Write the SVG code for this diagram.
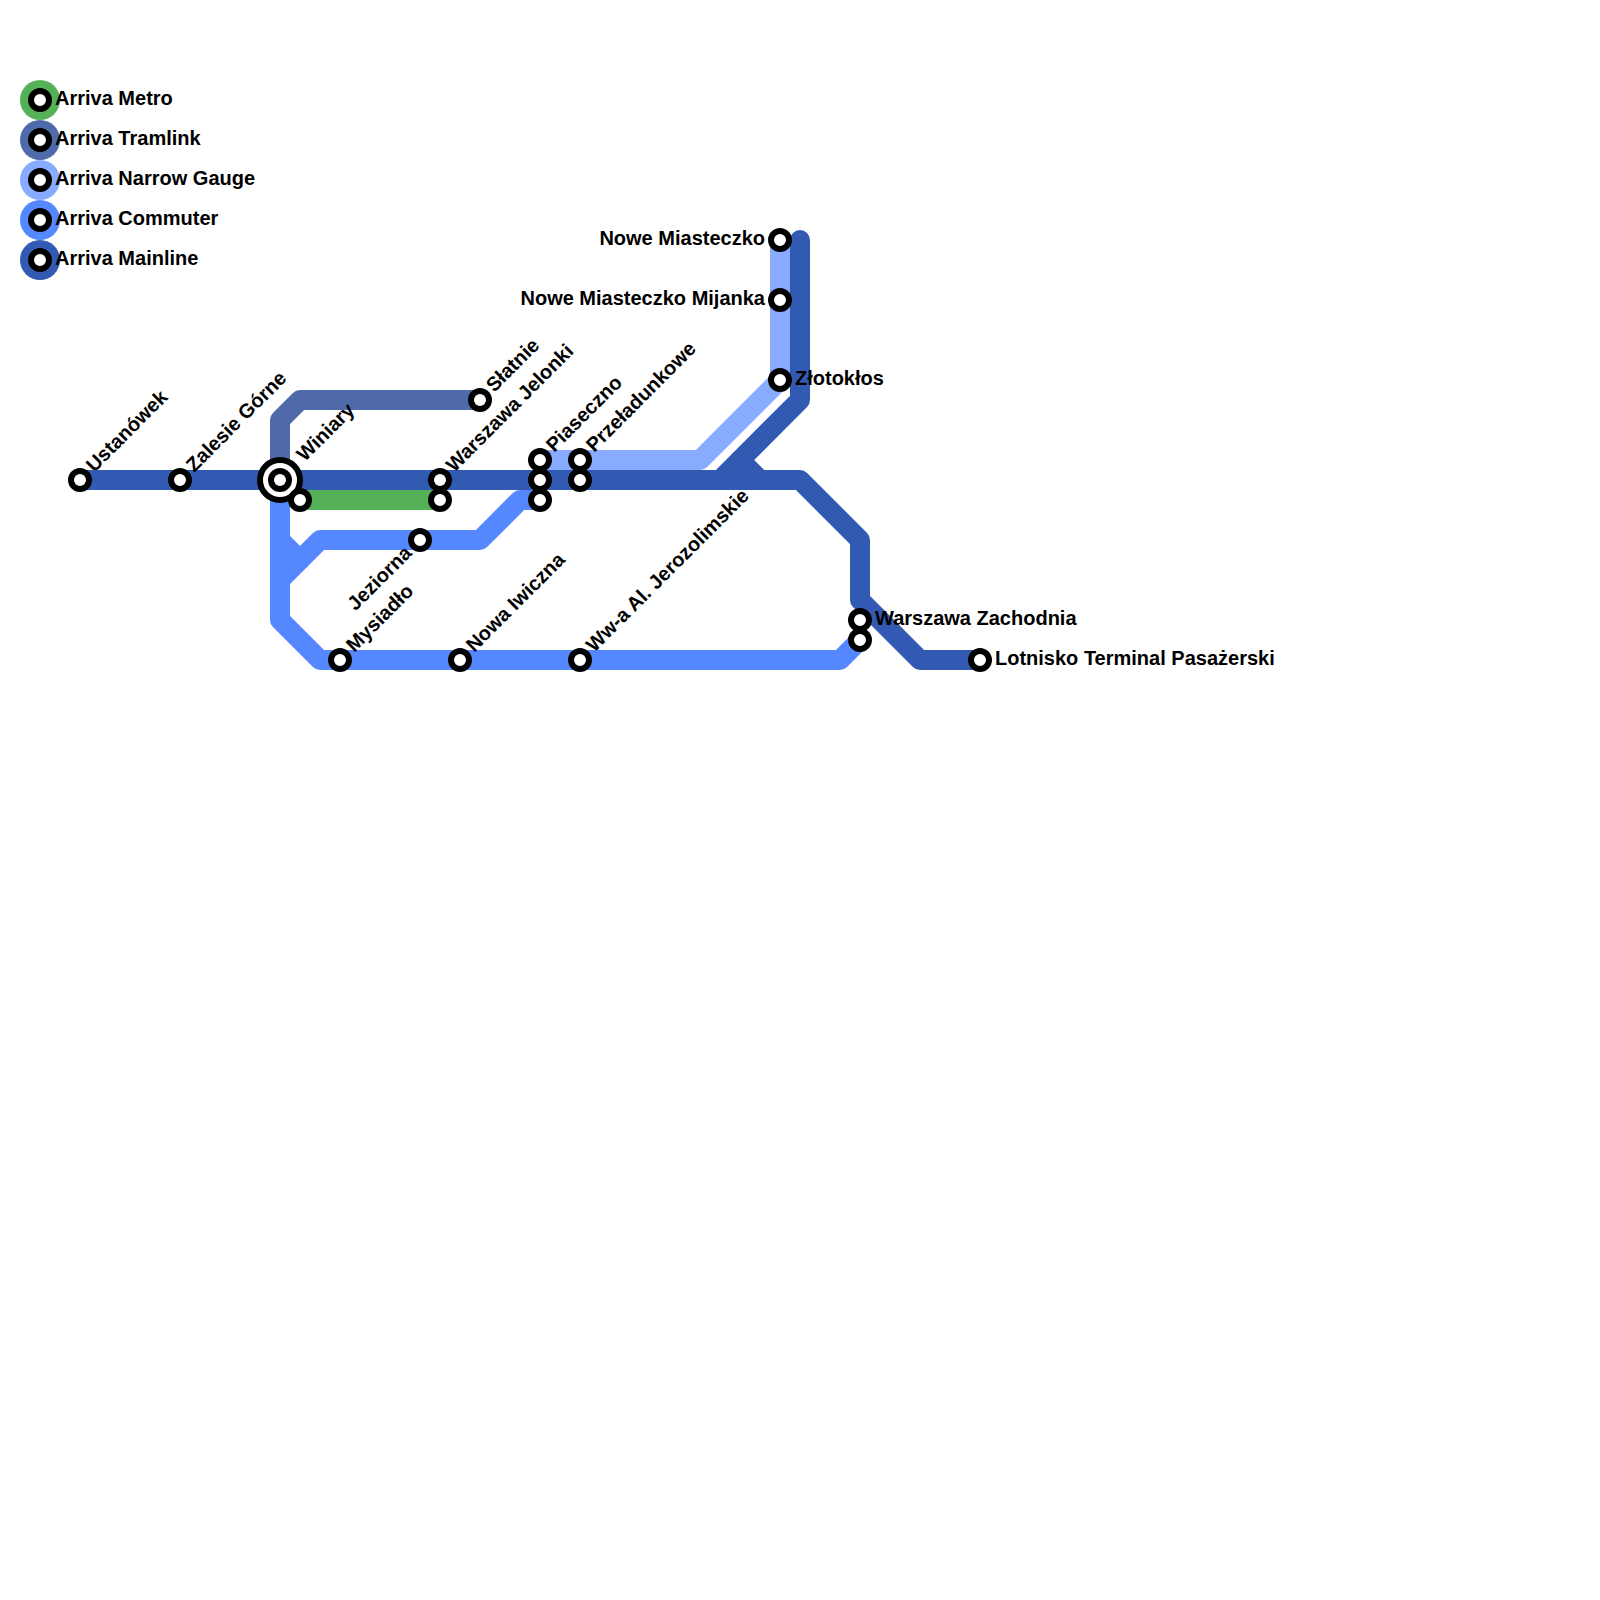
<svg xmlns="http://www.w3.org/2000/svg" width="1600" height="1600" viewBox="0 0 1600 1600">
<style>
.l{fill:none;stroke-width:20;stroke-linejoin:round;stroke-linecap:round}
.s{fill:#fff;stroke:#000;stroke-width:6}
text{font-family:"Liberation Sans",Arial,sans-serif;font-weight:bold;font-size:20px;fill:#000}
.e{text-anchor:end}
.metro{stroke:#55b158}.tram{stroke:#4f6aa8}.narrow{stroke:#88aaff}.comm{stroke:#5588ff}.main{stroke:#335ab3}
</style>
<rect width="1600" height="1600" fill="#fff"/>
<g id="connectors">
<path class="l tram" d="M280,480V420L300,400H480"/>
<path class="l metro" d="M300,500H440"/>
<path class="l narrow" d="M780,240V380L700,460H540"/>
<path class="l comm" d="M280,480V620L320,660H840L860,640"/>
<path class="l comm" d="M540,500H520L480,540H320L280,580"/>
<path class="l comm" d="M280,540L300,560"/>
<path class="l main" d="M80,480H800L860,540V600L920,660H980"/>
<path class="l main" d="M800,240V400L720,480"/>
<path class="l main" d="M740,460L760,480"/>
</g>
<g id="legend">
<g id="legend-metro"><circle cx="40" cy="100" r="20" fill="#55b158"/><circle class="s" cx="40" cy="100" r="9"/><text x="55" y="105">Arriva Metro</text></g>
<g id="legend-tramlink"><circle cx="40" cy="140" r="20" fill="#4f6aa8"/><circle class="s" cx="40" cy="140" r="9"/><text x="55" y="145">Arriva Tramlink</text></g>
<g id="legend-narrow"><circle cx="40" cy="180" r="20" fill="#88aaff"/><circle class="s" cx="40" cy="180" r="9"/><text x="55" y="185">Arriva Narrow Gauge</text></g>
<g id="legend-commuter"><circle cx="40" cy="220" r="20" fill="#5588ff"/><circle class="s" cx="40" cy="220" r="9"/><text x="55" y="224.5">Arriva Commuter</text></g>
<g id="legend-mainline"><circle cx="40" cy="260" r="20" fill="#335ab3"/><circle class="s" cx="40" cy="260" r="9"/><text x="55" y="264.5">Arriva Mainline</text></g>
</g>
<g id="n-ustanowek"><circle class="s" cx="80" cy="480" r="9"/><text transform="translate(80 480) rotate(-45)" x="15" y="5">Ustanówek</text></g>
<g id="n-zalesie"><circle class="s" cx="180" cy="480" r="9"/><text transform="translate(180 480) rotate(-45)" x="15" y="5">Zalesie Górne</text></g>
<g id="n-winiary"><circle class="s" cx="280" cy="480" r="20"/><circle class="s" cx="280" cy="480" r="9"/><text transform="translate(280 480) rotate(-45)" x="30" y="5">Winiary</text></g>
<g id="n-winiary-metro"><circle class="s" cx="300" cy="500" r="9"/></g>
<g id="n-jelonki"><circle class="s" cx="440" cy="480" r="9"/><text transform="translate(440 480) rotate(-45)" x="15" y="5">Warszawa Jelonki</text></g>
<g id="n-jelonki-metro"><circle class="s" cx="440" cy="500" r="9"/></g>
<g id="n-jeziorna"><circle class="s" cx="420" cy="540" r="9"/><text class="e" transform="translate(420 540) rotate(-45)" x="-15" y="5">Jeziorna</text></g>
<g id="n-slatnie"><circle class="s" cx="480" cy="400" r="9"/><text transform="translate(480 400) rotate(-45)" x="15" y="5">Słatnie</text></g>
<g id="n-piaseczno-narrow"><circle class="s" cx="540" cy="460" r="9"/><text transform="translate(540 460) rotate(-45)" x="15" y="5">Piaseczno</text></g>
<g id="n-piaseczno-main"><circle class="s" cx="540" cy="480" r="9"/></g>
<g id="n-piaseczno-comm"><circle class="s" cx="540" cy="500" r="9"/></g>
<g id="n-przeladunkowe-narrow"><circle class="s" cx="580" cy="460" r="9"/><text transform="translate(580 460) rotate(-45)" x="15" y="5">Przeładunkowe</text></g>
<g id="n-przeladunkowe-main"><circle class="s" cx="580" cy="480" r="9"/></g>
<g id="n-nowe"><circle class="s" cx="780" cy="240" r="9"/><text class="e" x="765" y="245">Nowe Miasteczko</text></g>
<g id="n-mijanka"><circle class="s" cx="780" cy="300" r="9"/><text class="e" x="765" y="305">Nowe Miasteczko Mijanka</text></g>
<g id="n-zlotoklos"><circle class="s" cx="780" cy="380" r="9"/><text x="795" y="385">Złotokłos</text></g>
<g id="n-zachodnia"><circle class="s" cx="860" cy="620" r="9"/><text x="875" y="625">Warszawa Zachodnia</text></g>
<g id="n-zachodnia-comm"><circle class="s" cx="860" cy="640" r="9"/></g>
<g id="n-lotnisko"><circle class="s" cx="980" cy="660" r="9"/><text x="995" y="665">Lotnisko Terminal Pasażerski</text></g>
<g id="n-mysiadlo"><circle class="s" cx="340" cy="660" r="9"/><text transform="translate(340 660) rotate(-45)" x="15" y="5">Mysiadło</text></g>
<g id="n-iwiczna"><circle class="s" cx="460" cy="660" r="9"/><text transform="translate(460 660) rotate(-45)" x="15" y="5">Nowa Iwiczna</text></g>
<g id="n-wwa"><circle class="s" cx="580" cy="660" r="9"/><text transform="translate(580 660) rotate(-45)" x="15" y="5">Ww-a Al. Jerozolimskie</text></g>
</svg>
